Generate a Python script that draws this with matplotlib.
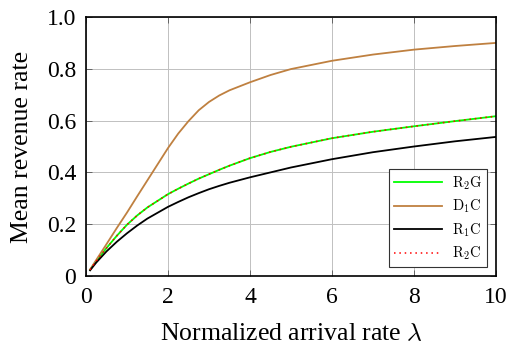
import matplotlib
matplotlib.use("Agg")
import matplotlib.pyplot as plt
from matplotlib.ticker import FixedLocator, FixedFormatter

plt.rcParams['font.family'] = ['Liberation Serif', 'DejaVu Serif']
plt.rcParams['mathtext.fontset'] = 'cm'

# normalized arrival rate
lam = [0.1, 0.25, 0.5, 0.75, 1.0, 1.25, 1.5, 2.0, 2.25, 2.5, 2.75, 3.0, 3.25, 3.5,
       4.0, 4.5, 5.0, 6.0, 7.0, 8.0, 9.0, 10.0]

# mean revenue rate per policy
r2g = [0.024, 0.058, 0.108, 0.155, 0.198, 0.234, 0.265, 0.316, 0.337, 0.357, 0.376, 0.393, 0.410, 0.426,
       0.455, 0.479, 0.499, 0.532, 0.557, 0.578, 0.598, 0.617]
d1c = [0.025, 0.062, 0.123, 0.185, 0.245, 0.308, 0.370, 0.494, 0.550, 0.598, 0.640, 0.672, 0.697, 0.717,
       0.748, 0.776, 0.799, 0.831, 0.855, 0.874, 0.888, 0.900]
r1c = [0.022, 0.052, 0.095, 0.132, 0.165, 0.195, 0.222, 0.267, 0.286, 0.304, 0.320, 0.335, 0.348, 0.360,
       0.381, 0.400, 0.419, 0.451, 0.478, 0.500, 0.520, 0.537]
r2c = r2g

x_ticks = [0, 2, 4, 6, 8, 10]
y_ticks = [0, 0.2, 0.4, 0.6, 0.8, 1.0]
y_labels = ['0', '0.2', '0.4', '0.6', '0.8', '1.0']

fig = plt.figure(figsize=(5.12, 3.45), dpi=100)
ax = fig.add_axes([86/512, 1 - 276/345, (496 - 86)/512, (276 - 17)/345])

ax.plot(lam, r2g, color='#00ff00', lw=1.3, label=r'$\mathrm{R_2G}$')
ax.plot(lam, d1c, color='#bf8040', lw=1.3, label=r'$\mathrm{D_1C}$')
ax.plot(lam, r1c, color='black', lw=1.3, label=r'$\mathrm{R_1C}$')
ax.plot(lam, r2c, color='red', lw=1.1, ls=(0, (1, 2.5)), label=r'$\mathrm{R_2C}$')

ax.set_xlim(0, 10)
ax.set_ylim(0, 1)
ax.xaxis.set_major_locator(FixedLocator(x_ticks))
ax.yaxis.set_major_locator(FixedLocator(y_ticks))
ax.yaxis.set_major_formatter(FixedFormatter(y_labels))
ax.grid(True, color='#c0c0c0', lw=0.7)
ax.set_axisbelow(True)
ax.tick_params(direction='in', length=4, width=0.6, color='#555555',
               top=True, right=True, labelsize=17)
ax.tick_params(axis='x', pad=8)
ax.tick_params(axis='y', pad=7)
for s in ax.spines.values():
    s.set_linewidth(1.2)

ax.set_xlabel(r'Normalized arrival rate $\lambda$', fontsize=18.5, labelpad=11)
ax.set_ylabel('Mean revenue rate', fontsize=18.5, labelpad=10)

leg = ax.legend(loc='lower right', fontsize=10.5, fancybox=False, framealpha=1,
                edgecolor='#333333', handlelength=3.3, borderaxespad=0.6,
                labelspacing=0.4, borderpad=0.35, handletextpad=0.7)
leg.get_frame().set_linewidth(0.8)

fig.savefig('out.png', dpi=100)
